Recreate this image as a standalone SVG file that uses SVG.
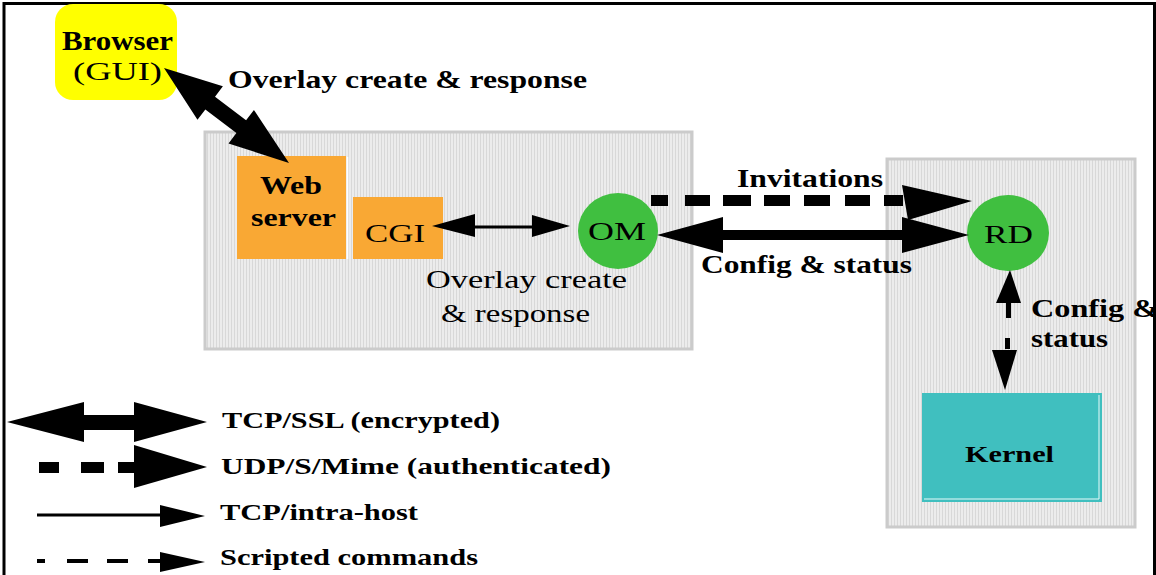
<svg xmlns="http://www.w3.org/2000/svg" width="1156" height="575" viewBox="0 0 1156 575">
<defs>
<style>
.t{font-family:"Liberation Serif","Times New Roman",serif;fill:#000}
.b{font-weight:bold}
.host{fill:#e4e4e4;stroke:#cbcbcb;stroke-width:3}
.org{fill:#f9a834}
.grn{fill:#40bf40}
.blk{fill:#000}
.ln{stroke:#000;fill:none}
</style>
<pattern id="stip" width="3" height="3" patternUnits="userSpaceOnUse">
<rect width="3" height="3" fill="#ececec"/>
<rect width="1" height="3" fill="#d8d8d8"/>
</pattern>
</defs>
<rect width="1156" height="575" fill="#fff"/>
<path d="M4,580 V3.5 H1154.5 V580" fill="none" stroke="#000" stroke-width="3"/>

<g id="host1">
<rect x="205" y="132" width="487" height="217" class="host" fill="url(#stip)" style="fill:url(#stip)"/>
</g>
<g id="host2">
<rect x="887" y="159" width="248" height="368" class="host" style="fill:url(#stip)"/>
</g>

<g id="browser">
<rect x="55" y="4" width="122" height="96" rx="18" fill="#ffff00"/>
<text x="62" y="50" class="t b" font-size="28" textLength="111" lengthAdjust="spacingAndGlyphs">Browser</text>
<text x="73" y="80" class="t" font-size="26" textLength="89" lengthAdjust="spacingAndGlyphs">(GUI)</text>
</g>

<g id="webserver">
<rect x="237" y="156" width="109" height="103" class="org"/>
<line x1="347.5" y1="157" x2="347.5" y2="259" stroke="#fff" stroke-width="1.5"/>
<text x="260" y="194" class="t b" font-size="26" textLength="62" lengthAdjust="spacingAndGlyphs">Web</text>
<text x="251" y="226" class="t b" font-size="26" textLength="85" lengthAdjust="spacingAndGlyphs">server</text>
</g>

<g id="cgi">
<rect x="353" y="197" width="90" height="62" class="org"/>
<text x="365" y="242" class="t" font-size="26" textLength="60" lengthAdjust="spacingAndGlyphs">CGI</text>
</g>

<g id="om">
<ellipse cx="618" cy="231" rx="40" ry="38" class="grn"/>
<text x="588" y="240" class="t" font-size="26" textLength="58" lengthAdjust="spacingAndGlyphs">OM</text>
</g>

<g id="rd">
<ellipse cx="1008" cy="233" rx="41" ry="38" class="grn"/>
<text x="984" y="243" class="t" font-size="26" textLength="49" lengthAdjust="spacingAndGlyphs">RD</text>
</g>

<g id="kernel">
<rect x="922" y="393" width="180" height="109" fill="#40bfbf"/>
<path d="M1099,395 V499 H924" fill="none" stroke="#e8fafa" stroke-width="1"/>
<text x="965" y="462" class="t b" font-size="24" textLength="89" lengthAdjust="spacingAndGlyphs">Kernel</text>
</g>

<g id="connectors">
<!-- Browser <-> Web server -->
<polygon class="blk" transform="translate(164,68) rotate(37.23)" points="0,0 58,-21 58,-8 97,-8 97,-21 157,0 97,21 97,8 58,8 58,21"/>
<!-- CGI <-> OM -->
<polygon class="blk" points="432,226 475,214 475,237"/>
<line class="ln" x1="474" y1="227" x2="533" y2="227" stroke-width="3"/>
<polygon class="blk" points="532,215 570,226 532,237"/>
<!-- Invitations -->
<g class="blk">
<rect x="651" y="195" width="17" height="11"/>
<rect x="685" y="195" width="25" height="11"/>
<rect x="723" y="195" width="28" height="11"/>
<rect x="764" y="195" width="26" height="11"/>
<rect x="804" y="195" width="26" height="11"/>
<rect x="845" y="195" width="25" height="11"/>
<rect x="884" y="195" width="19" height="11"/>
</g>
<polygon class="blk" points="902,185 972,201 908,220"/>
<!-- Config & status OM <-> RD -->
<polygon class="blk" points="657,235 723,217 723,230 902,230 902,217 969,235 902,253 902,240 723,240 723,253"/>
<!-- RD <-> Kernel -->
<polygon class="blk" points="1010,270 996,303 1021,303"/>
<rect x="1006" y="302" width="5" height="16" class="blk"/>
<rect x="1005" y="338" width="5" height="11" class="blk"/>
<polygon class="blk" points="992,350 1017,350 1005,390"/>
</g>

<g id="labels">
<text x="228" y="88" class="t b" font-size="26" textLength="359" lengthAdjust="spacingAndGlyphs">Overlay create &amp; response</text>
<text x="426" y="288" class="t" font-size="26" textLength="201" lengthAdjust="spacingAndGlyphs">Overlay create</text>
<text x="441" y="322" class="t" font-size="26" textLength="149" lengthAdjust="spacingAndGlyphs">&amp; response</text>
<text x="737" y="187" class="t b" font-size="26" textLength="146" lengthAdjust="spacingAndGlyphs">Invitations</text>
<text x="701" y="273" class="t b" font-size="26" textLength="211" lengthAdjust="spacingAndGlyphs">Config &amp; status</text>
<text x="1031" y="317" class="t b" font-size="26" textLength="128" lengthAdjust="spacingAndGlyphs">Config &amp;</text>
<text x="1031" y="347" class="t b" font-size="26" textLength="77" lengthAdjust="spacingAndGlyphs">status</text>
</g>

<g id="legend">
<polygon class="blk" points="7,422 84,402 84,415 134,415 134,402 207,422 134,442 134,430 84,430 84,442"/>
<g class="blk">
<rect x="39" y="462" width="20" height="11"/>
<rect x="81" y="462" width="23" height="11"/>
<rect x="118" y="462" width="17" height="11"/>
</g>
<polygon class="blk" points="134,445 207,467 134,488"/>
<line class="ln" x1="37" y1="515" x2="161" y2="515" stroke-width="3"/>
<polygon class="blk" points="160,505 205,516 160,527"/>
<g class="ln" stroke-width="4">
<line x1="37" y1="561" x2="45" y2="561"/>
<line x1="67" y1="561" x2="88" y2="561"/>
<line x1="107" y1="561" x2="128" y2="561"/>
<line x1="148" y1="561" x2="161" y2="561"/>
</g>
<polygon class="blk" points="160,552 205,562 160,572"/>
<text x="222" y="428" class="t b" font-size="24" textLength="278" lengthAdjust="spacingAndGlyphs">TCP/SSL (encrypted)</text>
<text x="221" y="474" class="t b" font-size="24" textLength="390" lengthAdjust="spacingAndGlyphs">UDP/S/Mime (authenticated)</text>
<text x="220" y="520" class="t b" font-size="24" textLength="198" lengthAdjust="spacingAndGlyphs">TCP/intra-host</text>
<text x="220" y="565" class="t b" font-size="24" textLength="258" lengthAdjust="spacingAndGlyphs">Scripted commands</text>
</g>
</svg>
